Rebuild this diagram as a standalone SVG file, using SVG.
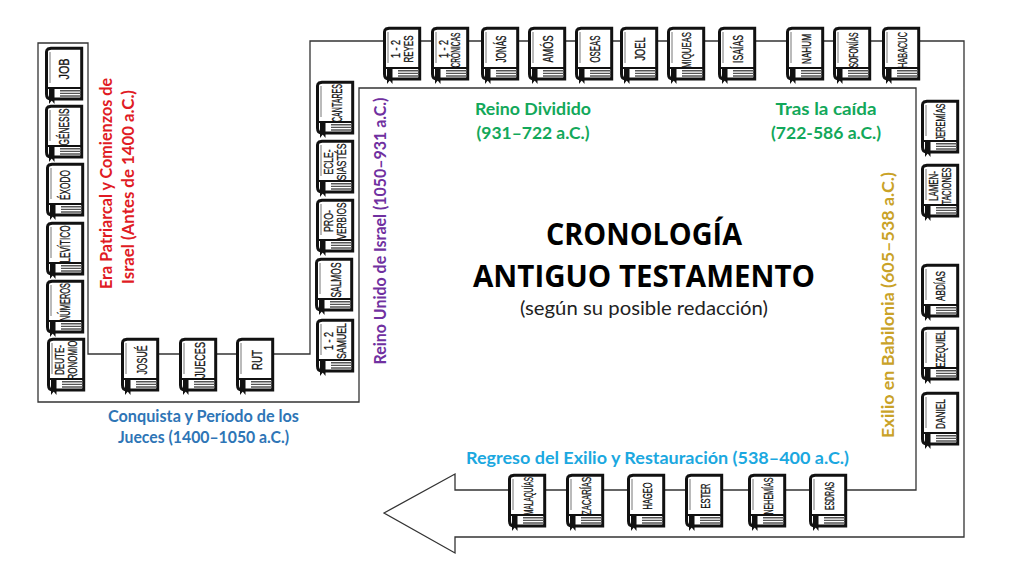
<svg xmlns="http://www.w3.org/2000/svg" width="1024" height="574" viewBox="0 0 1024 574">
<style>
.line{fill:#fff;stroke:#333;stroke-width:1.3}
.b{font-family:"Liberation Sans",Arial,sans-serif;font-size:14.5px;fill:#111;text-anchor:middle;stroke:#111;stroke-width:.3}
.s{font-size:13.5px}
.h{font-family:Lato,"Open Sans",sans-serif;font-weight:700;font-size:17.5px;text-anchor:middle}
.t{font-family:"Open Sans",Lato,sans-serif;font-weight:700;font-size:29.5px;text-anchor:middle;fill:#000}
.sub{font-family:Lato,"Open Sans",sans-serif;font-size:20px;text-anchor:middle;fill:#222}
</style>
<defs>
<g id="book">
<path d="M6,1.3 H36.7 V52 H6 Q1.5,52 1.5,47 V5 Q1.5,3 3,2 Z" fill="#fff" stroke="#111" stroke-width="3"/>
<path d="M5,5 V36" fill="none" stroke="#777" stroke-width="1"/>
<path d="M2,41 H37" fill="none" stroke="#111" stroke-width="2"/>
<path d="M14,43.8 H36 M14,46.4 H36 M14,49 H36" fill="none" stroke="#555" stroke-width="1.4"/>
<rect x="9" y="42.5" width="6" height="7.5" fill="#fff"/>
<path d="M4,41 H9.5 V57 L6.7,53.5 L4,57 Z" fill="#111"/>
</g>
</defs>
<g id="connectors">
<path class="line" d="M384,513 L455,474 V490 H916 V88 H359 V402 H38 V43 H88 V354 H310 V41 H964 V537 H455 V553 Z"/>
</g>
<g id="job" transform="translate(45,47)"><use href="#book"/><text class="b" textLength="21" lengthAdjust="spacingAndGlyphs" transform="translate(24,22) rotate(-90)">JOB</text></g>
<g id="genesis" transform="translate(45,105)"><use href="#book"/><text class="b" textLength="37" lengthAdjust="spacingAndGlyphs" transform="translate(24,22) rotate(-90)">GÉNESIS</text></g>
<g id="exodo" transform="translate(46,163)"><use href="#book"/><text class="b" textLength="30" lengthAdjust="spacingAndGlyphs" transform="translate(24,22) rotate(-90)">ÉXODO</text></g>
<g id="levitico" transform="translate(46,222)"><use href="#book"/><text class="b" textLength="37" lengthAdjust="spacingAndGlyphs" transform="translate(24,22) rotate(-90)">LEVÍTICO</text></g>
<g id="numeros" transform="translate(46,280)"><use href="#book"/><text class="b" textLength="38" lengthAdjust="spacingAndGlyphs" transform="translate(24,22) rotate(-90)">NÚMEROS</text></g>
<g id="deuteronomio" transform="translate(47,338)"><use href="#book"/><text class="b s" textLength="30" lengthAdjust="spacingAndGlyphs" transform="translate(17,22) rotate(-90)">DEUTE-</text><text class="b s" textLength="39" lengthAdjust="spacingAndGlyphs" transform="translate(30,22) rotate(-90)">RONOMIO</text></g>
<g id="josue" transform="translate(121,338)"><use href="#book"/><text class="b" textLength="29" lengthAdjust="spacingAndGlyphs" transform="translate(26,22) rotate(-90)">JOSUÉ</text></g>
<g id="jueces" transform="translate(179,338)"><use href="#book"/><text class="b" textLength="36" lengthAdjust="spacingAndGlyphs" transform="translate(26,22) rotate(-90)">JUECES</text></g>
<g id="rut" transform="translate(236,338)"><use href="#book"/><text class="b" textLength="20" lengthAdjust="spacingAndGlyphs" transform="translate(26,22) rotate(-90)">RUT</text></g>
<g id="samuel" transform="translate(316,319)"><use href="#book"/><text class="b s" textLength="18" lengthAdjust="spacingAndGlyphs" transform="translate(17,22) rotate(-90)">1 - 2</text><text class="b s" textLength="36" lengthAdjust="spacingAndGlyphs" transform="translate(30,22) rotate(-90)">SAMUEL</text></g>
<g id="salmos" transform="translate(315,258)"><use href="#book"/><text class="b" textLength="35" lengthAdjust="spacingAndGlyphs" transform="translate(26,22) rotate(-90)">SALMOS</text></g>
<g id="proverbios" transform="translate(316,199)"><use href="#book"/><text class="b s" textLength="22" lengthAdjust="spacingAndGlyphs" transform="translate(17,22) rotate(-90)">PRO-</text><text class="b s" textLength="37" lengthAdjust="spacingAndGlyphs" transform="translate(30,22) rotate(-90)">VERBIOS</text></g>
<g id="eclesiastes" transform="translate(316,140)"><use href="#book"/><text class="b s" textLength="25" lengthAdjust="spacingAndGlyphs" transform="translate(17,22) rotate(-90)">ECLE-</text><text class="b s" textLength="37" lengthAdjust="spacingAndGlyphs" transform="translate(30,22) rotate(-90)">SIASTÉS</text></g>
<g id="cantares" transform="translate(316,81)"><use href="#book"/><text class="b" textLength="38" lengthAdjust="spacingAndGlyphs" transform="translate(26,22) rotate(-90)">CANTARES</text></g>
<g id="reyes" transform="translate(383,27)"><use href="#book"/><text class="b s" textLength="18" lengthAdjust="spacingAndGlyphs" transform="translate(17,22) rotate(-90)">1 - 2</text><text class="b s" textLength="27" lengthAdjust="spacingAndGlyphs" transform="translate(30,22) rotate(-90)">REYES</text></g>
<g id="cronicas" transform="translate(431,27)"><use href="#book"/><text class="b s" textLength="18" lengthAdjust="spacingAndGlyphs" transform="translate(17,22) rotate(-90)">1 - 2</text><text class="b s" textLength="35" lengthAdjust="spacingAndGlyphs" transform="translate(29,23) rotate(-90)">CRÓNICAS</text></g>
<g id="jonas" transform="translate(481,27)"><use href="#book"/><text class="b" textLength="27" lengthAdjust="spacingAndGlyphs" transform="translate(25,22) rotate(-90)">JONÁS</text></g>
<g id="amos" transform="translate(528,27)"><use href="#book"/><text class="b" textLength="27" lengthAdjust="spacingAndGlyphs" transform="translate(25,22) rotate(-90)">AMÓS</text></g>
<g id="oseas" transform="translate(575,27)"><use href="#book"/><text class="b" textLength="27" lengthAdjust="spacingAndGlyphs" transform="translate(25,22) rotate(-90)">OSEAS</text></g>
<g id="joel" transform="translate(620,27)"><use href="#book"/><text class="b" textLength="23" lengthAdjust="spacingAndGlyphs" transform="translate(25,22) rotate(-90)">JOEL</text></g>
<g id="miqueas" transform="translate(667,27)"><use href="#book"/><text class="b s" textLength="36" lengthAdjust="spacingAndGlyphs" transform="translate(24,23) rotate(-90)">MIQUEAS</text></g>
<g id="isaias" transform="translate(718,27)"><use href="#book"/><text class="b" textLength="28" lengthAdjust="spacingAndGlyphs" transform="translate(25,22) rotate(-90)">ISAÍAS</text></g>
<g id="nahum" transform="translate(786,27)"><use href="#book"/><text class="b s" textLength="30" lengthAdjust="spacingAndGlyphs" transform="translate(25,22) rotate(-90)">NAHUM</text></g>
<g id="sofonias" transform="translate(833,27)"><use href="#book"/><text class="b s" textLength="35" lengthAdjust="spacingAndGlyphs" transform="translate(25,23) rotate(-90)">SOFONÍAS</text></g>
<g id="habacuc" transform="translate(882,27)"><use href="#book"/><text class="b s" textLength="36" lengthAdjust="spacingAndGlyphs" transform="translate(25,23) rotate(-90)">HABACUC</text></g>
<g id="jeremias" transform="translate(921,100)"><use href="#book"/><text class="b s" textLength="37" lengthAdjust="spacingAndGlyphs" transform="translate(24,22) rotate(-90)">JEREMÍAS</text></g>
<g id="lamentaciones" transform="translate(921,164)"><use href="#book"/><text class="b s" textLength="30" lengthAdjust="spacingAndGlyphs" transform="translate(17,22) rotate(-90)">LAMEN-</text><text class="b s" textLength="37" lengthAdjust="spacingAndGlyphs" transform="translate(30,22) rotate(-90)">TACIONES</text></g>
<g id="abdias" transform="translate(921,264)"><use href="#book"/><text class="b s" textLength="30" lengthAdjust="spacingAndGlyphs" transform="translate(24,22) rotate(-90)">ABDÍAS</text></g>
<g id="ezequiel" transform="translate(921,327)"><use href="#book"/><text class="b s" textLength="37" lengthAdjust="spacingAndGlyphs" transform="translate(24,22) rotate(-90)">EZEQUIEL</text></g>
<g id="daniel" transform="translate(921,392)"><use href="#book"/><text class="b s" textLength="30" lengthAdjust="spacingAndGlyphs" transform="translate(24,22) rotate(-90)">DANIEL</text></g>
<g id="esdras" transform="translate(809,474)"><use href="#book"/><text class="b s" textLength="28" lengthAdjust="spacingAndGlyphs" transform="translate(25,22) rotate(-90)">ESDRAS</text></g>
<g id="nehemias" transform="translate(748,474)"><use href="#book"/><text class="b s" textLength="37" lengthAdjust="spacingAndGlyphs" transform="translate(25,22) rotate(-90)">NEHEMÍAS</text></g>
<g id="ester" transform="translate(685,474)"><use href="#book"/><text class="b s" textLength="25" lengthAdjust="spacingAndGlyphs" transform="translate(25,22) rotate(-90)">ESTER</text></g>
<g id="hageo" transform="translate(627,474)"><use href="#book"/><text class="b s" textLength="27" lengthAdjust="spacingAndGlyphs" transform="translate(25,22) rotate(-90)">HAGEO</text></g>
<g id="zacarias" transform="translate(566,474)"><use href="#book"/><text class="b s" textLength="38" lengthAdjust="spacingAndGlyphs" transform="translate(25,22) rotate(-90)">ZACARÍAS</text></g>
<g id="malaquias" transform="translate(508,474)"><use href="#book"/><text class="b s" textLength="38" lengthAdjust="spacingAndGlyphs" transform="translate(25,22) rotate(-90)">MALAQUÍAS</text></g>
<g id="labels">
<text class="h" fill="#e01b24" textLength="211" lengthAdjust="spacingAndGlyphs" transform="translate(112,183.5) rotate(-90)">Era Patriarcal y Comienzos de</text>
<text class="h" fill="#e01b24" textLength="194" lengthAdjust="spacingAndGlyphs" transform="translate(134,187) rotate(-90)">Israel (Antes de 1400 a.C.)</text>
<text class="h" fill="#7030a0" textLength="267" lengthAdjust="spacingAndGlyphs" transform="translate(386,231) rotate(-90)">Reino Unido de Israel (1050–931 a.C.)</text>
<text class="h" fill="#c9a227" textLength="266" lengthAdjust="spacingAndGlyphs" transform="translate(894,305) rotate(-90)">Exilio en Babilonia (605–538 a.C.)</text>
<text class="h" fill="#12a85a" textLength="116" lengthAdjust="spacingAndGlyphs" x="533" y="115">Reino Dividido</text>
<text class="h" fill="#12a85a" textLength="113" lengthAdjust="spacingAndGlyphs" x="533" y="139">(931–722 a.C.)</text>
<text class="h" fill="#12a85a" textLength="101" lengthAdjust="spacingAndGlyphs" x="826" y="115">Tras la caída</text>
<text class="h" fill="#12a85a" textLength="110" lengthAdjust="spacingAndGlyphs" x="826" y="139">(722-586 a.C.)</text>
<text class="h" fill="#2e75b6" textLength="191" lengthAdjust="spacingAndGlyphs" x="203.5" y="422">Conquista y Período de los</text>
<text class="h" fill="#2e75b6" textLength="171" lengthAdjust="spacingAndGlyphs" x="203.5" y="443">Jueces (1400–1050 a.C.)</text>
<text class="h" fill="#1ba8e0" textLength="383" lengthAdjust="spacingAndGlyphs" x="657.5" y="464">Regreso del Exilio y Restauración (538–400 a.C.)</text>
</g>
<g id="title">
<text class="t" textLength="196" lengthAdjust="spacingAndGlyphs" x="644" y="245">CRONOLOGÍA</text>
<text class="t" textLength="342" lengthAdjust="spacingAndGlyphs" x="644" y="287">ANTIGUO TESTAMENTO</text>
<text class="sub" textLength="248" lengthAdjust="spacingAndGlyphs" x="644" y="315">(según su posible redacción)</text>
</g>
</svg>
